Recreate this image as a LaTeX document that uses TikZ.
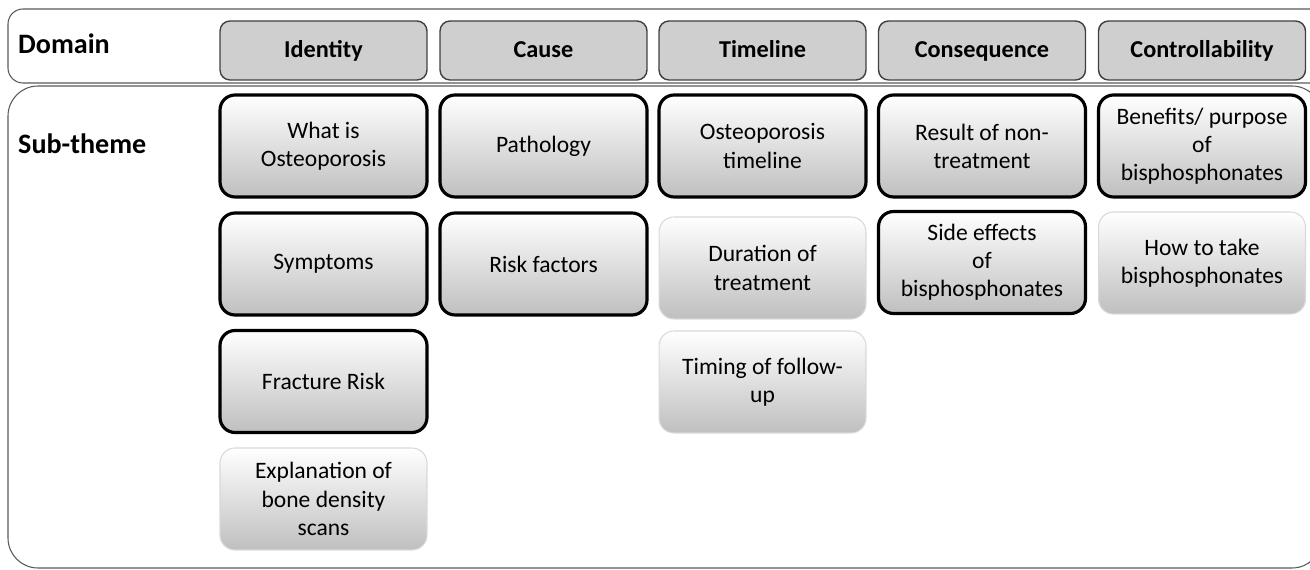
\documentclass[tikz,border=0pt]{standalone}
\usepackage{fontspec}
\setmainfont{Carlito}

\begin{document}
\begin{tikzpicture}[x=0.02cm,y=-0.02cm,
domhead/.style={draw=black!75,line width=0.8pt,fill=gray!38,rounded corners=0.2cm,
  minimum width=4.14cm,minimum height=1.18cm,text height=0.9em,text depth=0.05em,
  font=\fontsize{13.8}{16}\selectfont\bfseries},
subkey/.style={draw=black,line width=1.8pt,top color=white,bottom color=gray!50,
  rounded corners=0.3cm,minimum width=4.14cm,minimum height=2.04cm,align=center,
  font=\fontsize{13.4}{16}\selectfont},
subother/.style={subkey,draw=gray!30,line width=0.6pt},
rowlabel/.style={anchor=west,text height=0.85em,text depth=0.05em,
  font=\fontsize{16}{19}\selectfont\bfseries},
rowframe/.style={draw=black!65,line width=0.6pt}]
\useasboundingbox (0,0) rectangle (1310,570);
\begin{scope}
\clip (0,0) rectangle (1310,570);
\draw[rowframe,rounded corners=0.3cm] (8,9) rectangle (1335,83);
\draw[rowframe,rounded corners=0.6cm] (8,86) rectangle (1322,568);
\end{scope}
\path
(12,46) node[rowlabel] (domlab) {Domain}
(12,146) node[rowlabel] (sublab) {Sub-theme}
(323.5,50.5) node[domhead] (identity) {Identity}
(543.5,50.5) node[domhead] (cause) {Cause}
(762.5,50.5) node[domhead] (timeline) {Timeline}
(982,50.5) node[domhead] (conseq) {Consequence}
(1202,50.5) node[domhead] (control) {Controllability};
% sub-themes, column by column
\path
(323.5,146) node[subkey] (whatis) {What is\\Osteoporosis}
(323.5,264) node[subkey] (symptoms) {Symptoms}
(323.5,381.5) node[subkey] (fracture) {Fracture Risk}
(323.5,499) node[subother] (bmdscan) {Explanation of\\bone density\\scans}
(543.5,146) node[subkey] (pathology) {Pathology}
(543.5,264) node[subkey] (riskfac) {Risk factors}
(762.5,146) node[subkey] (optime) {Osteoporosis\\timeline}
(762.5,268) node[subother] (duration) {Duration of\\treatment}
(762.5,382) node[subother] (followup) {Timing of follow-\\up}
(982,146) node[subkey] (nontreat) {Result of non-\\treatment}
(982,262.5) node[subkey] (sideeff) {Side effects\\of\\bisphosphonates}
(1202,146) node[subkey] (benefits) {Benefits/ purpose\\of\\bisphosphonates}
(1202,263) node[subother] (howtake) {How to take\\bisphosphonates};
\end{tikzpicture}
\end{document}
